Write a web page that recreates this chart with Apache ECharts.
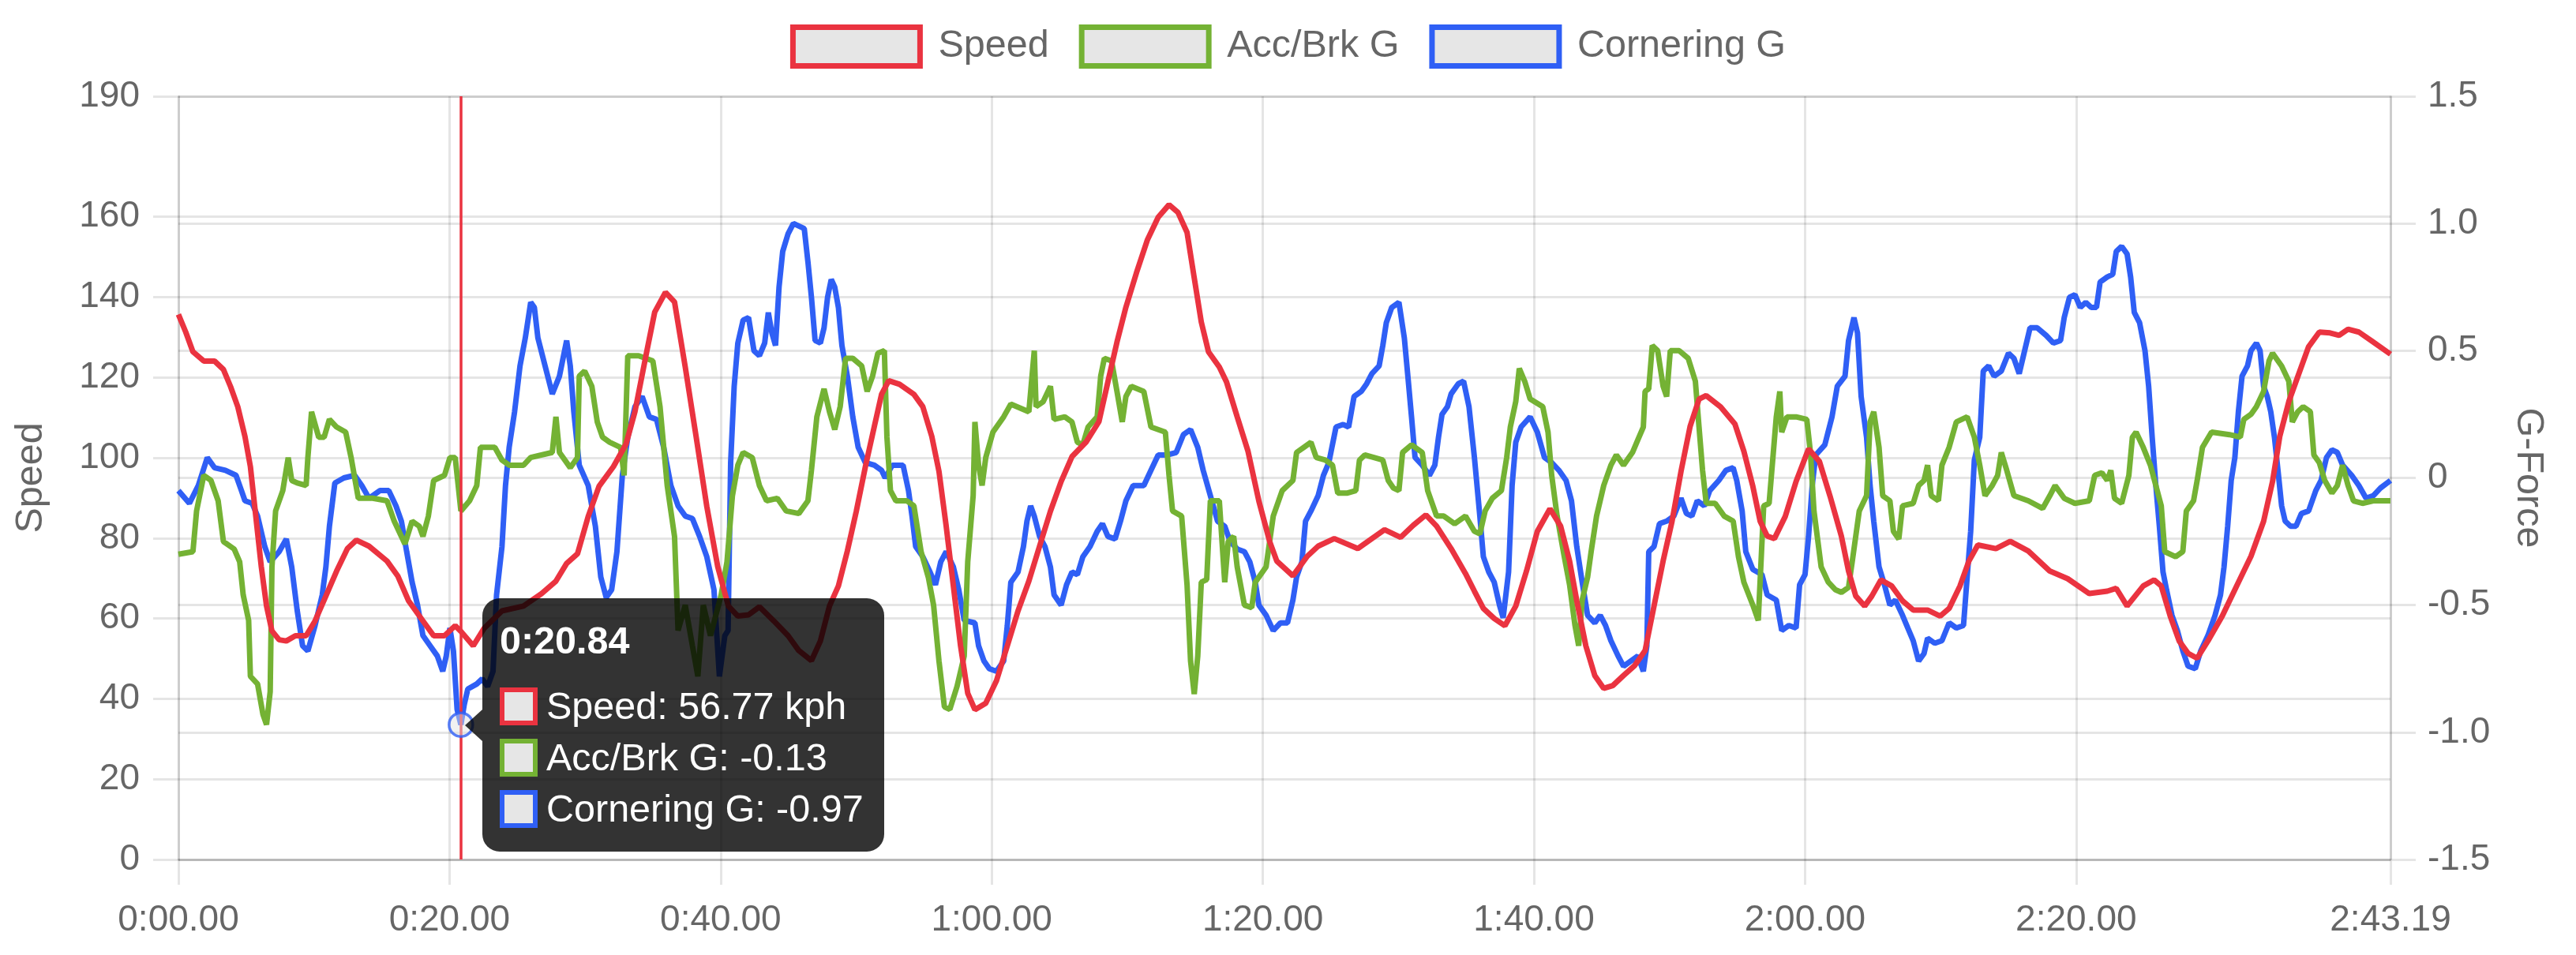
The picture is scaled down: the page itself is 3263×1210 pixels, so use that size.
<!DOCTYPE html>
<html>
<head>
<meta charset="utf-8">
<script src="https://cdn.jsdelivr.net/npm/echarts@6/dist/echarts.min.js"></script>
<style>
html,body{margin:0;padding:0;background:#fff;}
#chart{width:3263px;height:1210px;}
</style>
</head>
<body>
<div id="chart"></div>
<script>
// ---- data (time in seconds) ----
const SERIES_NAMES = ['Speed', 'Acc/Brk G', 'Cornering G'];
const X_TICKS = [0, 20, 40, 60, 80, 100, 120, 140, 163.19];
const SPEED_TICKS = [0, 20, 40, 60, 80, 100, 120, 140, 160, 190];
const HOVER_T = 20.84;

const SPEED = [
[0,135.7],[0.54,131.3],[1.07,126.4],[1.87,124.1],[2.66,124.1],[3.32,122.0],[3.85,117.7],[4.38,112.7],[4.91,105.3],[5.31,97.8],
[5.71,85.4],[6.11,73.0],[6.5,63.1],[6.9,56.9],[7.43,54.7],[7.96,54.4],[8.63,55.7],[9.42,55.7],[10.08,59.4],[10.88,65.6],
[11.67,71.8],[12.47,77.4],[13.13,79.5],[14.06,78.0],[15.39,74.3],[16.18,70.6],[16.98,64.4],[18.04,59.4],[18.83,55.7],[19.63,55.7],
[20.42,58.2],[20.84,56.77],[21.75,53.2],[22.54,57.5],[23.87,61.9],[25.46,63.1],[26.79,66.2],[27.85,69.3],[28.64,73.7],[29.44,76.1],
[30.23,85.4],[31.03,92.9],[32.09,97.8],[33.02,103.4],[33.68,111.5],[34.47,125.1],[35.14,136.3],[35.93,141.2],[36.6,138.8],[37.39,122.6],
[38.19,105.3],[38.98,87.9],[39.78,73.0],[40.57,63.1],[41.27,60.6],[42.06,60.9],[42.86,62.9],[43.92,59.4],[44.98,55.7],[45.77,52.0],
[46.7,49.5],[47.36,54.4],[48.03,63.1],[48.69,68.1],[49.35,76.8],[50.01,86.7],[50.68,97.8],[51.34,107.8],[51.87,115.8],[52.4,119.2],
[53.2,118.3],[54.26,115.8],[54.92,112.7],[55.58,105.3],[56.11,96.6],[56.64,83.0],[57.17,68.1],[57.7,53.2],[58.23,41.4],[58.76,37.3],
[59.56,38.9],[60.35,44.5],[61.15,53.2],[61.94,61.9],[62.74,69.3],[63.53,78.0],[64.33,86.7],[65.12,94.1],[65.92,100.3],[66.98,104.0],
[67.91,109.0],[68.57,118.9],[69.24,128.8],[69.9,137.5],[70.69,146.2],[71.49,154.3],[72.28,159.9],[73.08,163.0],[73.74,161.1],[74.41,156.1],
[74.93,145.0],[75.46,133.8],[75.99,126.4],[76.79,122.6],[77.32,118.9],[78.11,110.2],[78.91,101.6],[79.71,89.2],[80.5,79.2],[81.03,74.3],
[82.22,70.6],[83.28,75.5],[84.08,78.0],[85.27,79.9],[87.0,77.4],[88.05,79.9],[88.98,82.1],[90.17,80.2],[91.1,83.2],[92.03,85.8],
[92.82,83.0],[93.89,77.4],[94.95,71.2],[95.61,66.8],[96.27,62.5],[97.07,60.0],[97.86,58.2],[98.66,63.1],[99.45,71.8],[100.25,81.7],
[101.18,87.3],[101.97,83.0],[102.63,74.3],[103.16,64.4],[103.83,53.2],[104.49,45.8],[105.15,42.6],[105.82,43.3],[106.61,45.8],[107.41,48.2],
[108.2,52.0],[108.86,63.1],[109.53,74.3],[110.19,84.2],[110.85,96.6],[111.52,107.8],[112.18,114.6],[112.71,115.5],[113.77,112.7],[114.83,108.4],
[115.49,101.6],[116.15,92.9],[116.69,84.2],[117.21,80.5],[117.74,79.9],[118.54,85.4],[119.34,94.1],[120.26,102.2],[121.06,99.1],[121.85,90.4],
[122.68,80.5],[123.21,71.8],[123.74,65.6],[124.4,63.1],[124.93,65.6],[125.6,69.6],[126.39,68.1],[127.19,64.4],[127.98,62.1],[129.04,62.1],
[129.97,60.6],[130.63,62.5],[131.43,68.1],[132.09,74.3],[132.75,78.3],[134.08,77.4],[135.14,79.2],[136.47,76.8],[138.06,71.8],[139.38,69.9],
[140.97,66.2],[142.3,66.8],[142.96,67.5],[143.76,63.1],[144.95,68.1],[145.75,69.6],[146.28,68.1],[146.94,60.6],[147.6,54.4],[148.26,51.3],
[148.93,50.1],[149.72,54.4],[150.78,60.6],[151.84,68.1],[152.9,75.5],[153.83,84.2],[154.49,94.1],[155.02,105.3],[155.69,114.0],[156.35,120.2],
[157.14,127.6],[157.94,131.3],[158.73,131.1],[159.4,130.5],[160.06,132.0],[160.86,131.3],[161.92,128.8],[163.19,125.8]
];

const ACC_G = [
[0,-0.30],[1.07,-0.29],[1.34,-0.13],[1.87,0.01],[2.4,-0.01],[2.93,-0.09],[3.32,-0.25],[4.12,-0.28],[4.52,-0.33],[4.78,-0.46],
[5.18,-0.56],[5.31,-0.78],[5.84,-0.81],[6.24,-0.93],[6.5,-0.97],[6.77,-0.84],[6.9,-0.35],[7.17,-0.13],[7.7,-0.05],[8.1,0.08],
[8.36,-0.01],[8.76,-0.02],[9.42,-0.03],[9.55,0.08],[9.82,0.26],[10.35,0.16],[10.75,0.16],[11.14,0.23],[11.67,0.20],[12.34,0.18],
[12.74,0.08],[13.27,-0.08],[14.33,-0.08],[15.39,-0.09],[15.92,-0.17],[16.71,-0.26],[17.24,-0.17],[17.77,-0.19],[18.04,-0.23],[18.44,-0.15],
[18.83,-0.01],[19.63,0.01],[20.03,0.08],[20.42,0.08],[20.84,-0.13],[21.48,-0.09],[22.01,-0.03],[22.28,0.12],[23.34,0.12],[23.87,0.07],
[24.4,0.05],[25.46,0.05],[25.99,0.08],[27.58,0.10],[27.85,0.24],[28.11,0.10],[28.91,0.04],[29.44,0.08],[29.57,0.40],[29.97,0.42],
[30.5,0.36],[30.9,0.22],[31.29,0.16],[31.82,0.14],[32.62,0.12],[32.88,0.01],[33.15,0.48],[33.95,0.48],[35.0,0.46],[35.53,0.28],
[36.06,-0.03],[36.6,-0.23],[36.86,-0.60],[37.39,-0.50],[37.92,-0.66],[38.32,-0.78],[38.72,-0.50],[39.25,-0.62],[40.04,-0.46],[40.47,-0.33],
[40.87,-0.07],[41.27,0.05],[41.66,0.10],[42.33,0.08],[42.86,-0.03],[43.39,-0.09],[44.18,-0.08],[44.84,-0.13],[45.77,-0.14],[46.44,-0.09],
[46.7,0.03],[47.1,0.24],[47.63,0.35],[48.03,0.26],[48.42,0.19],[48.82,0.28],[49.22,0.47],[49.75,0.47],[50.41,0.44],[50.81,0.34],
[51.21,0.40],[51.6,0.49],[52.08,0.50],[52.27,0.16],[52.53,-0.05],[52.93,-0.09],[53.73,-0.09],[54.26,-0.11],[54.79,-0.29],[55.32,-0.39],
[55.71,-0.50],[56.11,-0.72],[56.51,-0.90],[56.91,-0.91],[57.44,-0.82],[57.97,-0.70],[58.23,-0.33],[58.63,-0.07],[58.76,0.22],[59.03,0.05],
[59.29,-0.03],[59.56,0.08],[60.09,0.18],[60.88,0.24],[61.41,0.29],[62.74,0.26],[63.14,0.50],[63.27,0.28],[63.8,0.30],[64.33,0.36],
[64.6,0.23],[65.39,0.24],[65.92,0.22],[66.32,0.14],[66.72,0.13],[67.11,0.20],[67.78,0.24],[68.04,0.40],[68.31,0.47],[68.84,0.46],
[69.24,0.34],[69.63,0.22],[69.9,0.32],[70.3,0.36],[71.22,0.34],[71.75,0.20],[72.81,0.18],[73.08,0.01],[73.34,-0.13],[74.01,-0.15],
[74.41,-0.42],[74.67,-0.72],[74.94,-0.85],[75.2,-0.70],[75.46,-0.41],[75.86,-0.40],[76.13,-0.09],[76.79,-0.09],[77.19,-0.41],[77.45,-0.25],
[77.85,-0.23],[78.11,-0.35],[78.64,-0.50],[79.18,-0.51],[79.44,-0.41],[80.24,-0.35],[80.77,-0.15],[81.43,-0.05],[82.22,-0.01],[82.49,0.10],
[83.02,0.12],[83.55,0.14],[83.94,0.08],[84.61,0.07],[85.14,0.05],[85.53,-0.06],[86.2,-0.06],[86.86,-0.05],[87.13,0.07],[87.52,0.09],
[88.19,0.08],[88.85,0.07],[89.25,-0.01],[89.64,-0.04],[90.04,-0.05],[90.31,0.10],[90.97,0.13],[91.76,0.10],[92.16,-0.05],[92.82,-0.15],
[93.35,-0.15],[94.15,-0.18],[94.95,-0.15],[95.61,-0.21],[96.01,-0.22],[96.4,-0.13],[96.93,-0.08],[97.6,-0.05],[97.99,0.08],[98.26,0.20],
[98.66,0.30],[98.92,0.43],[99.32,0.38],[99.72,0.31],[100.65,0.28],[101.04,0.18],[101.31,0.01],[101.71,-0.15],[102.24,-0.31],[102.63,-0.42],
[103.03,-0.58],[103.3,-0.66],[103.56,-0.48],[103.96,-0.39],[104.22,-0.29],[104.62,-0.15],[105.15,-0.03],[105.68,0.05],[106.08,0.09],[106.61,0.05],
[107.27,0.10],[107.67,0.15],[108.07,0.20],[108.2,0.34],[108.47,0.35],[108.73,0.52],[109.13,0.50],[109.53,0.36],[109.79,0.32],[110.06,0.50],
[110.72,0.50],[111.38,0.47],[111.91,0.38],[112.18,0.20],[112.44,0.03],[112.71,-0.10],[113.37,-0.10],[114.03,-0.15],[114.7,-0.17],[115.09,-0.31],
[115.49,-0.41],[116.15,-0.50],[116.55,-0.56],[116.95,-0.11],[117.35,-0.10],[117.88,0.24],[118.14,0.34],[118.28,0.18],[118.67,0.24],[119.34,0.24],
[120.13,0.23],[120.4,0.10],[120.66,-0.13],[121.19,-0.35],[121.72,-0.41],[122.25,-0.44],[122.68,-0.45],[123.21,-0.43],[123.48,-0.33],[123.74,-0.23],
[124.0,-0.13],[124.54,-0.07],[124.8,0.22],[125.07,0.26],[125.46,0.12],[125.73,-0.07],[126.26,-0.09],[126.52,-0.21],[126.92,-0.24],[127.19,-0.11],
[127.98,-0.10],[128.38,-0.03],[128.78,-0.01],[129.04,0.05],[129.31,-0.07],[129.84,-0.09],[130.1,0.05],[130.63,0.12],[131.16,0.22],[131.96,0.24],
[132.49,0.16],[132.89,0.05],[133.28,-0.07],[133.81,-0.03],[134.21,0.01],[134.48,0.10],[134.88,0.03],[135.41,-0.07],[136.47,-0.09],[137.53,-0.12],
[138.06,-0.07],[138.45,-0.03],[139.12,-0.08],[139.91,-0.10],[140.97,-0.09],[141.37,0.01],[141.9,0.02],[142.3,-0.01],[142.56,0.03],[142.83,-0.08],
[143.36,-0.10],[143.89,0.01],[144.15,0.16],[144.42,0.18],[144.95,0.12],[145.48,0.05],[145.88,-0.03],[146.28,-0.11],[146.54,-0.29],[147.34,-0.31],
[147.87,-0.29],[148.13,-0.13],[148.66,-0.09],[148.93,-0.01],[149.32,0.12],[149.99,0.18],[151.31,0.17],[152.11,0.16],[152.37,0.23],[152.9,0.25],
[153.3,0.28],[153.83,0.34],[154.23,0.46],[154.49,0.49],[155.16,0.44],[155.69,0.38],[155.95,0.22],[156.35,0.26],[156.75,0.28],[157.28,0.26],
[157.54,0.09],[157.94,0.06],[158.34,-0.01],[158.87,-0.06],[159.27,-0.03],[159.66,0.05],[160.06,-0.03],[160.46,-0.09],[161.12,-0.10],[161.92,-0.09],
[163.19,-0.09]
];

const CORNER_G = [
[0,-0.05],[0.81,-0.10],[1.47,-0.03],[2.13,0.08],[2.66,0.04],[3.46,0.03],[4.25,0.01],[4.65,-0.05],[4.91,-0.09],[5.44,-0.10],
[5.84,-0.15],[6.37,-0.27],[6.77,-0.33],[7.43,-0.29],[7.96,-0.24],[8.36,-0.35],[8.76,-0.52],[9.16,-0.66],[9.55,-0.68],[10.08,-0.58],
[10.61,-0.46],[10.88,-0.35],[11.14,-0.19],[11.54,-0.02],[12.21,0.00],[13.0,0.01],[13.53,-0.03],[14.06,-0.08],[14.86,-0.05],[15.52,-0.05],
[16.05,-0.11],[16.45,-0.17],[16.84,-0.29],[17.24,-0.41],[17.64,-0.50],[18.04,-0.62],[18.57,-0.66],[19.1,-0.70],[19.5,-0.76],[19.76,-0.70],
[20.03,-0.59],[20.29,-0.68],[20.56,-0.91],[20.84,-0.97],[21.09,-0.89],[21.35,-0.83],[22.01,-0.81],[22.41,-0.79],[22.81,-0.82],[23.21,-0.76],
[23.47,-0.46],[23.87,-0.27],[24.13,-0.03],[24.4,0.12],[24.8,0.26],[25.2,0.44],[25.59,0.55],[25.99,0.69],[26.26,0.67],[26.52,0.55],
[27.05,0.44],[27.58,0.33],[28.11,0.40],[28.64,0.54],[28.91,0.44],[29.17,0.26],[29.57,0.05],[30.23,-0.03],[30.76,-0.19],[31.16,-0.39],
[31.56,-0.47],[31.96,-0.44],[32.35,-0.29],[32.75,0.01],[33.15,0.16],[33.68,0.28],[34.21,0.32],[34.74,0.24],[35.27,0.23],[35.8,0.12],
[36.33,-0.03],[36.86,-0.11],[37.39,-0.15],[37.92,-0.16],[38.45,-0.23],[38.98,-0.31],[39.51,-0.44],[39.91,-0.78],[40.31,-0.62],[40.55,-0.60],
[40.74,0.06],[41.0,0.36],[41.27,0.53],[41.66,0.62],[42.06,0.63],[42.46,0.50],[42.86,0.48],[43.25,0.53],[43.52,0.65],[43.78,0.57],
[44.05,0.52],[44.31,0.75],[44.58,0.89],[44.98,0.96],[45.37,1.00],[45.77,0.99],[46.17,0.98],[46.44,0.85],[46.7,0.71],[46.97,0.54],
[47.36,0.53],[47.63,0.59],[47.89,0.71],[48.16,0.78],[48.42,0.75],[48.69,0.67],[48.95,0.52],[49.35,0.40],[49.75,0.24],[50.15,0.12],
[50.68,0.06],[51.34,0.05],[51.87,0.03],[52.14,0.00],[52.67,0.05],[53.46,0.05],[53.86,-0.05],[54.12,-0.15],[54.39,-0.27],[54.92,-0.31],
[55.45,-0.37],[55.85,-0.42],[56.24,-0.33],[56.64,-0.29],[57.17,-0.35],[57.57,-0.44],[57.97,-0.56],[58.76,-0.57],[59.03,-0.66],[59.43,-0.72],
[59.82,-0.75],[60.35,-0.76],[60.88,-0.72],[61.15,-0.58],[61.41,-0.41],[61.94,-0.37],[62.34,-0.27],[62.6,-0.17],[62.87,-0.11],[63.14,-0.15],
[63.53,-0.23],[63.93,-0.27],[64.33,-0.35],[64.6,-0.46],[65.12,-0.50],[65.52,-0.42],[65.92,-0.37],[66.32,-0.38],[66.72,-0.31],[67.25,-0.27],
[67.78,-0.21],[68.17,-0.18],[68.57,-0.23],[69.1,-0.24],[69.5,-0.17],[69.9,-0.09],[70.43,-0.03],[71.22,-0.03],[71.75,0.03],[72.28,0.09],
[72.95,0.09],[73.61,0.10],[74.14,0.17],[74.67,0.19],[75.2,0.12],[75.6,0.03],[76.13,-0.07],[76.66,-0.17],[77.19,-0.19],[77.59,-0.25],
[78.12,-0.28],[78.64,-0.29],[79.04,-0.33],[79.44,-0.41],[79.71,-0.50],[80.24,-0.54],[80.77,-0.60],[81.3,-0.57],[81.82,-0.57],[82.22,-0.48],
[82.49,-0.39],[82.88,-0.33],[83.15,-0.17],[83.55,-0.13],[84.08,-0.07],[84.47,0.01],[84.87,0.06],[85.4,0.20],[85.93,0.21],[86.33,0.20],
[86.73,0.32],[87.26,0.34],[87.66,0.37],[88.05,0.41],[88.58,0.44],[88.85,0.52],[89.11,0.61],[89.51,0.67],[90.04,0.69],[90.44,0.55],
[90.7,0.40],[90.97,0.24],[91.23,0.08],[91.76,0.05],[92.29,0.01],[92.69,0.05],[92.96,0.16],[93.22,0.25],[93.62,0.28],[93.89,0.33],
[94.42,0.37],[94.81,0.38],[95.21,0.28],[95.61,0.08],[96.01,-0.15],[96.27,-0.31],[96.67,-0.37],[97.07,-0.41],[97.46,-0.50],[97.73,-0.55],
[98.13,-0.37],[98.39,-0.03],[98.66,0.14],[99.05,0.20],[99.72,0.24],[100.25,0.18],[100.78,0.08],[101.31,0.06],[101.84,0.03],[102.37,-0.01],
[102.77,-0.09],[103.16,-0.27],[103.56,-0.41],[103.96,-0.54],[104.49,-0.57],[104.89,-0.54],[105.28,-0.58],[105.68,-0.64],[106.21,-0.70],[106.61,-0.74],
[107.14,-0.72],[107.67,-0.70],[108.07,-0.76],[108.33,-0.66],[108.47,-0.29],[108.86,-0.27],[109.26,-0.18],[109.79,-0.17],[110.32,-0.15],[110.85,-0.08],
[111.25,-0.14],[111.65,-0.15],[112.05,-0.09],[112.57,-0.11],[112.97,-0.05],[113.64,-0.01],[114.17,0.03],[114.7,0.04],[114.96,-0.01],[115.36,-0.13],
[115.63,-0.29],[116.15,-0.36],[116.82,-0.38],[117.21,-0.46],[117.88,-0.48],[118.28,-0.60],[118.81,-0.58],[119.34,-0.59],[119.6,-0.42],[120.0,-0.38],
[120.26,-0.23],[120.53,-0.03],[120.79,0.09],[121.46,0.13],[121.99,0.24],[122.38,0.36],[122.95,0.40],[123.21,0.54],[123.61,0.63],[123.87,0.57],
[124.14,0.32],[124.54,0.16],[124.8,-0.03],[125.07,-0.17],[125.46,-0.35],[125.86,-0.42],[126.26,-0.50],[126.66,-0.48],[127.19,-0.54],[127.58,-0.59],
[127.98,-0.64],[128.38,-0.72],[128.78,-0.69],[129.04,-0.63],[129.57,-0.65],[130.1,-0.64],[130.63,-0.57],[131.16,-0.59],[131.69,-0.58],[131.96,-0.39],
[132.22,-0.21],[132.49,0.07],[132.89,0.16],[133.15,0.42],[133.55,0.44],[133.95,0.40],[134.48,0.42],[135.01,0.49],[135.41,0.47],[135.8,0.41],
[136.2,0.50],[136.6,0.59],[137.13,0.59],[137.79,0.56],[138.32,0.53],[138.85,0.54],[139.12,0.63],[139.51,0.71],[139.91,0.72],[140.31,0.67],
[140.71,0.69],[141.11,0.67],[141.5,0.67],[141.77,0.77],[142.3,0.79],[142.7,0.80],[142.96,0.89],[143.36,0.91],[143.76,0.88],[144.02,0.79],
[144.29,0.65],[144.68,0.61],[145.08,0.50],[145.35,0.36],[145.61,0.16],[145.88,-0.03],[146.14,-0.19],[146.41,-0.37],[146.67,-0.44],[147.07,-0.54],
[147.47,-0.60],[147.87,-0.68],[148.26,-0.74],[148.79,-0.75],[149.19,-0.68],[149.72,-0.62],[150.25,-0.54],[150.65,-0.46],[150.91,-0.35],[151.18,-0.19],
[151.44,-0.01],[151.71,0.08],[151.97,0.26],[152.24,0.40],[152.64,0.44],[152.9,0.50],[153.3,0.53],[153.57,0.50],[153.83,0.36],[154.1,0.32],
[154.36,0.26],[154.63,0.16],[154.89,0.03],[155.16,-0.11],[155.42,-0.17],[155.82,-0.19],[156.22,-0.19],[156.62,-0.14],[157.15,-0.13],[157.68,-0.05],
[158.07,-0.01],[158.47,0.08],[158.87,0.11],[159.27,0.10],[159.66,0.05],[160.33,0.01],[160.86,-0.03],[161.39,-0.08],[161.92,-0.07],[162.45,-0.04],
[163.19,-0.01]
];

// ---- styling ----
const FONT = "'Liberation Sans', Arial, Helvetica, sans-serif";
const RED = '#EA3340', GREEN = '#74B234', BLUE = '#2F5FF5';
const GRID_C = 'rgba(0,0,0,0.1)';
const TXT = '#666';

function fmtTime(v) {
  const m = Math.floor(v / 60 + 1e-9);
  const s = v - m * 60;
  let ss = s.toFixed(2);
  if (s < 10) ss = '0' + ss;
  return m + ':' + ss;
}
function valueAt(arr, t) {
  for (const p of arr) if (Math.abs(p[0] - t) < 1e-6) return p[1];
  return null;
}

const hoverSpeed = valueAt(SPEED, HOVER_T);
const hoverAcc = valueAt(ACC_G, HOVER_T);
const hoverCorner = valueAt(CORNER_G, HOVER_T);

function tipRow(color, text) {
  return '<div style="height:65px;line-height:65px;display:flex;align-items:center;">' +
    '<span style="display:inline-block;box-sizing:border-box;width:48px;height:48px;border:6px solid ' + color +
    ';background:#e6e6e6;margin-right:11px;"></span>' + text + '</div>';
}

const chart = echarts.init(document.getElementById('chart'), null, { renderer: 'canvas' });

const legendItem = (name, color) => ({
  name: name, icon: 'rect',
  itemStyle: { color: '#e6e6e6', borderColor: color, borderWidth: 7 }
});

const option = {
  animation: false,
  backgroundColor: '#fff',
  textStyle: { fontFamily: FONT },
  legend: {
    data: [legendItem(SERIES_NAMES[0], RED), legendItem(SERIES_NAMES[1], GREEN), legendItem(SERIES_NAMES[2], BLUE)],
    left: 'center', top: 26,
    itemWidth: 161, itemHeight: 49, itemGap: 38,
    selectedMode: false,
    textStyle: { fontSize: 48.5, color: TXT, fontFamily: FONT, padding: [0, 0, 0, 18] }
  },
  grid: { left: 226, right: 235, top: 122, bottom: 121, containLabel: false },
  tooltip: {
    trigger: 'item',
    triggerOn: 'none',
    alwaysShowContent: true,
    transitionDuration: 0,
    backgroundColor: 'rgba(0,0,0,0.8)',
    borderWidth: 0,
    padding: [24, 26, 22, 22],
    extraCssText: 'border-radius:22px;box-shadow:none;',
    textStyle: { color: '#fff', fontSize: 48.5, fontFamily: FONT },
    position: function (point, params, dom, rect, size) {
      return [point[0] + 27, point[1] - size.contentSize[1] / 2];
    },
    formatter: function () {
      return '<div style="position:absolute;left:-22px;top:50%;margin-top:-20px;width:0;height:0;' +
        'border-top:20px solid transparent;border-bottom:20px solid transparent;border-right:22px solid rgba(0,0,0,0.8);"></div>' +
        '<div style="font-weight:bold;height:58px;line-height:58px;margin-bottom:22px;">' + fmtTime(HOVER_T) + '</div>' +
        tipRow(RED, SERIES_NAMES[0] + ': ' + hoverSpeed.toFixed(2) + ' kph') +
        tipRow(GREEN, SERIES_NAMES[1] + ': ' + hoverAcc.toFixed(2)) +
        tipRow(BLUE, SERIES_NAMES[2] + ': ' + hoverCorner.toFixed(2));
    }
  },
  xAxis: {
    type: 'value', min: 0, max: X_TICKS[X_TICKS.length - 1],
    axisLine: { show: true, lineStyle: { color: GRID_C, width: 3 } },
    axisTick: { show: true, length: 32, customValues: X_TICKS, lineStyle: { color: GRID_C, width: 3 } },
    axisLabel: { customValues: X_TICKS, margin: 54, fontSize: 46, color: TXT, fontFamily: FONT, formatter: fmtTime },
    splitLine: { show: true, lineStyle: { color: GRID_C, width: 3 } }
  },
  yAxis: [
    {
      type: 'value', min: 0, max: 190, position: 'left',
      name: 'Speed', nameLocation: 'middle', nameGap: 162,
      nameTextStyle: { fontSize: 48.5, color: TXT, fontFamily: FONT },
      axisLine: { show: true, lineStyle: { color: GRID_C, width: 3 } },
      axisTick: { show: true, length: 32, customValues: SPEED_TICKS, lineStyle: { color: GRID_C, width: 3 } },
      axisLabel: { customValues: SPEED_TICKS, margin: 49, fontSize: 46, color: TXT, fontFamily: FONT },
      splitLine: { show: true, lineStyle: { color: GRID_C, width: 3 } }
    },
    {
      type: 'value', min: -1.5, max: 1.5, interval: 0.5, position: 'right',
      name: 'G-Force', nameLocation: 'middle', nameGap: 150, nameRotate: -90,
      nameTextStyle: { fontSize: 48.5, color: TXT, fontFamily: FONT },
      axisLine: { show: true, lineStyle: { color: GRID_C, width: 3 } },
      axisTick: { show: true, length: 32, lineStyle: { color: GRID_C, width: 3 } },
      axisLabel: { margin: 47, fontSize: 46, color: TXT, fontFamily: FONT,
        formatter: v => (Math.abs(v) < 1e-9 ? '0' : v.toFixed(1)) },
      splitLine: { show: true, lineStyle: { color: GRID_C, width: 3 } }
    }
  ],
  series: [
    { name: SERIES_NAMES[2], type: 'line', yAxisIndex: 1, data: CORNER_G, showSymbol: false, silent: true,
      lineStyle: { color: BLUE, width: 7 }, itemStyle: { color: BLUE }, z: 2 },
    { name: SERIES_NAMES[1], type: 'line', yAxisIndex: 1, data: ACC_G, showSymbol: false, silent: true,
      lineStyle: { color: GREEN, width: 7 }, itemStyle: { color: GREEN }, z: 3 },
    { name: SERIES_NAMES[0], type: 'line', yAxisIndex: 0, data: SPEED, showSymbol: false, silent: true,
      lineStyle: { color: RED, width: 7 }, itemStyle: { color: RED }, z: 4 },
    { name: 'hover', type: 'scatter', yAxisIndex: 1, data: [[HOVER_T, hoverCorner]], z: 5,
      symbol: 'circle', symbolSize: 30,
      itemStyle: { color: 'rgba(225,225,225,0.6)', borderColor: BLUE, borderWidth: 3.5 },
      emphasis: { disabled: true },
      markLine: { silent: true, symbol: ['none', 'none'], label: { show: false },
        lineStyle: { color: RED, width: 3.5, type: 'solid' },
        data: [{ xAxis: HOVER_T }] } }
  ]
};

chart.setOption(option);
chart.dispatchAction({ type: 'showTip', seriesIndex: 3, dataIndex: 0 });
</script>
</body>
</html>
